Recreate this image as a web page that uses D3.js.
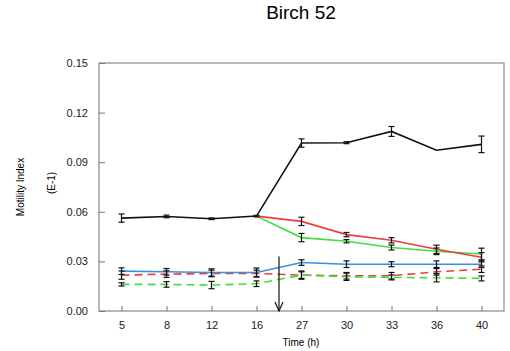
<!DOCTYPE html>
<html>
<head>
<meta charset="utf-8">
<script src="https://cdn.jsdelivr.net/npm/d3@7"></script>
<style>
  body { margin: 0; background: #fff; }
  text { font-family: "Liberation Sans", Arial, sans-serif; }
</style>
</head>
<body>
<div id="chart"></div>
<script>
const width = 510;
const height = 351;

// time points (h)
const times = ["5", "8", "12", "16", "27", "30", "33", "36", "40"];
const yTicks = [0, 0.03, 0.06, 0.09, 0.12, 0.15];

// series values and error half-widths (null = no point)
const blackVals = [0.0562, 0.0572, 0.0558, 0.0574, 0.1016, 0.1018, 0.1086, 0.0972, 0.1008];
const blackErr  = [0.0025, 0.0008, 0.0005, 0.0005, 0.0025, 0.0006, 0.003, 0, 0.005];
const redVals   = [null, null, null, 0.0574, 0.0542, 0.0462, 0.0428, 0.0373, 0.0325];
const redErr    = [null, null, null, 0, 0.0025, 0.0013, 0.0016, 0.0025, 0.0028];
const greenVals = [null, null, null, 0.0574, 0.0444, 0.0422, 0.0384, 0.0361, 0.0345];
const greenErr  = [null, null, null, 0, 0.0025, 0.001, 0.0015, 0.002, 0.0035];
const blueVals  = [0.0241, 0.0237, 0.0233, 0.0233, 0.0293, 0.0283, 0.0283, 0.0283, 0.0283];
const blueErr   = [0.002, 0.002, 0.0022, 0.0027, 0.0017, 0.002, 0.0015, 0.002, 0.002];
const redDashVals = [0.0217, 0.0223, 0.0227, 0.0227, 0.0217, 0.0213, 0.0213, 0.0237, 0.0253];
const redDashErr  = [0.0025, 0.002, 0.002, 0.002, 0.002, 0.002, 0.002, 0.002, 0.002];
const greenDashVals = [0.0161, 0.0161, 0.0157, 0.0165, 0.0217, 0.0207, 0.0203, 0.0201, 0.0197];
const greenDashErr  = [0.001, 0.0017, 0.0022, 0.0017, 0.0025, 0.0022, 0.0015, 0.0025, 0.0015];

const series = [
  { vals: redDashVals, err: redDashErr, color: "#e8403c", dash: "8,5" },
  { vals: greenDashVals, err: greenDashErr, color: "#44dd3c", dash: "8,5" },
  { vals: blueVals, err: blueErr, color: "#3c8fe0", dash: null },
  { vals: greenVals, err: greenErr, color: "#44dd3c", dash: null },
  { vals: redVals, err: redErr, color: "#e8403c", dash: null },
  { vals: blackVals, err: blackErr, color: "#111", dash: null }
];

const margin = { top: 63, right: 6, bottom: 40, left: 99 };

const svg = d3.select("#chart").append("svg")
    .attr("width", width)
    .attr("height", height);

const x = d3.scalePoint()
    .domain(times)
    .range([margin.left, width - margin.right])
    .padding(0.5);

const y = d3.scaleLinear()
    .domain([0, 0.15])
    .range([height - margin.bottom, margin.top]);

// frame
svg.append("rect")
    .attr("x", margin.left)
    .attr("y", margin.top)
    .attr("width", width - margin.left - margin.right)
    .attr("height", height - margin.top - margin.bottom)
    .attr("fill", "none")
    .attr("stroke", "#8a8a8a")
    .attr("stroke-width", 1.2);

// axes with inward ticks
const yAxis = svg.append("g")
    .attr("transform", `translate(${margin.left},0)`)
    .call(d3.axisLeft(y).tickValues(yTicks).tickFormat(d3.format(".2f")).tickSizeInner(-6).tickSizeOuter(0).tickPadding(11));
yAxis.select(".domain").remove();

const xAxis = svg.append("g")
    .attr("transform", `translate(0,${height - margin.bottom})`)
    .call(d3.axisBottom(x).tickSizeInner(-5).tickSizeOuter(0).tickPadding(10));
xAxis.select(".domain").remove();

svg.selectAll(".tick line").attr("stroke", "#777");
svg.selectAll(".tick text")
    .attr("font-size", 11)
    .attr("fill", "#222")
    .style("font-family", "Liberation Sans, Arial, sans-serif");

// lines
series.forEach(s => {
  const pts = times.map((t, i) => ({ t, v: s.vals[i], e: s.err[i] })).filter(d => d.v != null);
  const line = d3.line().x(d => x(d.t)).y(d => y(d.v));
  svg.append("path")
      .datum(pts)
      .attr("d", line)
      .attr("fill", "none")
      .attr("stroke", s.color)
      .attr("stroke-width", 1.6)
      .attr("stroke-dasharray", s.dash);
});

// error bars (black)
series.forEach(s => {
  const pts = times.map((t, i) => ({ t, v: s.vals[i], e: s.err[i] })).filter(d => d.v != null && d.e > 0);
  const g = svg.append("g").attr("stroke", "#111").attr("stroke-width", 1.2);
  pts.forEach(d => {
    const cx = x(d.t), y1 = y(d.v - d.e), y2 = y(d.v + d.e);
    g.append("line").attr("x1", cx).attr("x2", cx).attr("y1", y1).attr("y2", y2);
    g.append("line").attr("x1", cx - 3).attr("x2", cx + 3).attr("y1", y1).attr("y2", y1);
    g.append("line").attr("x1", cx - 3).attr("x2", cx + 3).attr("y1", y2).attr("y2", y2);
  });
});

// arrow marking treatment time
const ax = (x("16") + x("27")) / 2;
svg.append("line")
    .attr("x1", ax).attr("x2", ax)
    .attr("y1", y(0.033)).attr("y2", y(0))
    .attr("stroke", "#111").attr("stroke-width", 1.2);
svg.append("path")
    .attr("d", `M${ax - 4},${y(0) - 9} L${ax},${y(0)} L${ax + 4},${y(0) - 9}`)
    .attr("fill", "none").attr("stroke", "#111").attr("stroke-width", 1.2);

// titles
svg.append("text")
    .attr("x", 301).attr("y", 19)
    .attr("text-anchor", "middle")
    .attr("font-size", 19)
    .text("Birch 52");

svg.append("text")
    .attr("x", 301).attr("y", 346)
    .attr("text-anchor", "middle")
    .attr("font-size", 10)
    .text("Time (h)");

svg.append("text")
    .attr("transform", "translate(24,187) rotate(-90)")
    .attr("text-anchor", "middle")
    .attr("font-size", 10)
    .text("Motility Index");

svg.append("text")
    .attr("transform", "translate(55,183) rotate(-90)")
    .attr("text-anchor", "middle")
    .attr("font-size", 10)
    .text("(E-1)");
</script>
</body>
</html>
